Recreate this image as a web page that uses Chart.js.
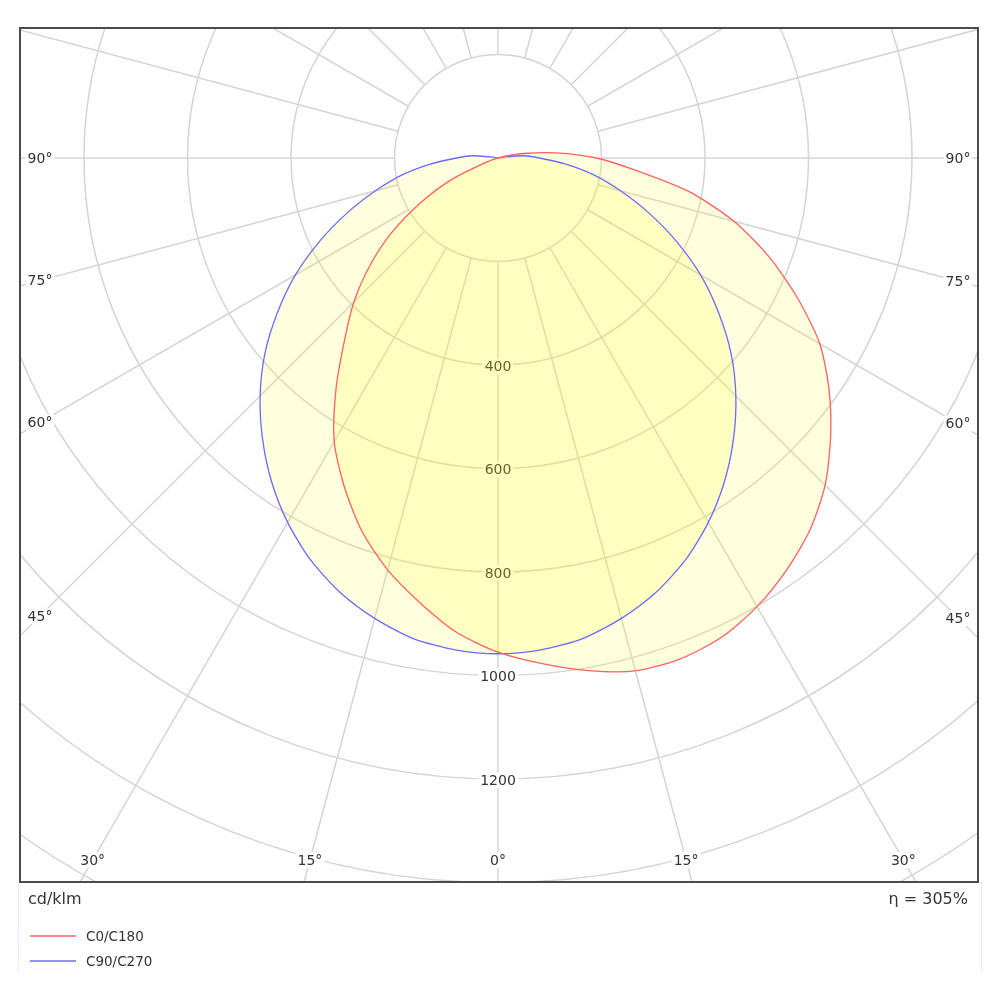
<!DOCTYPE html>
<html>
<head>
<meta charset="utf-8">
<script src="https://cdn.jsdelivr.net/npm/chart.js@4.4.1/dist/chart.umd.min.js"></script>
<style>
  html, body { margin: 0; padding: 0; background: #fff; }
  #wrap { width: 1000px; height: 1000px; }
</style>
</head>
<body>
<div id="wrap"><canvas id="c" width="1000" height="1000"></canvas></div>
<script>
// ---- data (cd/klm), gamma angles in degrees from nadir ----
const gammaAngles = [0, 5, 10, 15, 20, 25, 30, 35, 40, 45, 50, 55, 60, 65, 70, 75, 80, 85, 90, 95, 100, 105, 110];
const c0   = [955, 981, 1006, 1026, 1030, 1022, 1001, 972, 938, 894, 839, 781, 718, 638, 557, 472, 375, 265, 190, 112, 50, 12, 0];
const c180 = [955, 920, 872, 824, 768, 702, 633, 546, 462, 394, 323, 250, 172, 100, 25, 0, 0, 0, 0, 0, 0, 0, 0];
const c90  = [958, 954, 943, 921, 893, 857, 813, 763, 708, 650, 588, 520, 452, 380, 310, 245, 188, 130, 80, 50, 8, 0, 0];
const c270 = [958, 954, 943, 921, 893, 857, 813, 763, 708, 650, 588, 520, 452, 380, 310, 245, 188, 130, 80, 50, 8, 0, 0];
const seriesNames = ['C0/C180', 'C90/C270'];
const ringValues = [200, 400, 600, 800, 1000, 1200, 1400, 1600, 1800, 2000];
const ringLabelValues = [400, 600, 800, 1000, 1200];
const radialStepDeg = 15;
const angleLabelValues = [0, 15, 30, 45, 60, 75, 90];
const unitText = 'cd/klm';
const efficiencyText = 'η = 305%';

// ---- build polar -> cartesian (library scales do the pixel mapping) ----
function toXY(deg, val, side) {
  const a = deg * Math.PI / 180;
  return { x: side * val * Math.sin(a), y: -val * Math.cos(a) };
}
function buildLoop(leftVals, rightVals) {
  const pts = [];
  for (let i = gammaAngles.length - 1; i >= 1; i--) pts.push(toXY(gammaAngles[i], leftVals[i], -1));
  for (let i = 0; i < gammaAngles.length; i++) pts.push(toXY(gammaAngles[i], rightVals[i], 1));
  return pts;
}

// layout: plot box and scale (pixels per cd/klm)
const box = { left: 20, top: 28, right: 978, bottom: 882 };
const centerPx = { x: 498, y: 158 };
const pxPerUnit = 0.5175;

const FONT = '"DejaVu Sans", Verdana, sans-serif';

const polarPlugin = {
  id: 'polarGrid',
  beforeDatasetsDraw(chart) {
    const ctx = chart.ctx;
    const xs = chart.scales.x, ys = chart.scales.y;
    const ca = chart.chartArea;
    const cx = xs.getPixelForValue(0), cy = ys.getPixelForValue(0);
    const rp = v => xs.getPixelForValue(v) - cx;

    ctx.save();
    ctx.beginPath();
    ctx.rect(ca.left, ca.top, ca.right - ca.left, ca.bottom - ca.top);
    ctx.clip();

    // rings
    ctx.strokeStyle = '#d4d4d4';
    ctx.lineWidth = 1.5;
    ringValues.forEach(v => {
      ctx.beginPath();
      ctx.arc(cx, cy, rp(v), 0, Math.PI * 2);
      ctx.stroke();
    });
    // radial lines
    const rIn = rp(ringValues[0]), rOut = rp(ringValues[ringValues.length - 1]);
    for (let d = 0; d < 360; d += radialStepDeg) {
      const a = d * Math.PI / 180;
      const sx = Math.sin(a), sy = Math.cos(a);
      ctx.beginPath();
      ctx.moveTo(cx + rIn * sx, cy + rIn * sy);
      ctx.lineTo(cx + rOut * sx, cy + rOut * sy);
      ctx.stroke();
    }

    ctx.font = '14px ' + FONT;
    ctx.textAlign = 'center';
    ctx.textBaseline = 'middle';
    const labelWithBg = (txt, x, y) => {
      const w = ctx.measureText(txt).width;
      ctx.fillStyle = '#ffffff';
      ctx.fillRect(x - w / 2 - 2, y - 8, w + 4, 16);
      ctx.fillStyle = '#333333';
      ctx.fillText(txt, x, y + 1);
    };
    // ring labels on the 0° axis
    ringLabelValues.forEach(v => labelWithBg(String(v), cx, cy + rp(v) + 1));

    // angle labels near the frame
    const insetX = 20, insetY = 22;
    angleLabelValues.forEach(d => {
      [-1, 1].forEach(side => {
        if (d === 0 && side === -1) return;
        const a = d * Math.PI / 180;
        const s = Math.sin(a), c = Math.cos(a);
        const distX = side < 0 ? (cx - (ca.left + insetX)) : ((ca.right - insetX) - cx);
        const distY = (ca.bottom - insetY) - cy;
        let t = Infinity;
        if (s > 1e-6) t = Math.min(t, distX / s);
        if (c > 1e-6) t = Math.min(t, distY / c);
        labelWithBg(d + '°', cx + side * t * s, cy + t * c);
      });
    });

    // translucent fills of each curve (follow the drawn line path)
    chart.data.datasets.forEach((ds, i) => {
      const meta = chart.getDatasetMeta(i);
      const line = meta.dataset;
      ctx.beginPath();
      if (line && line.path) {
        line.path(ctx);
      } else {
        meta.data.forEach((p, k) => { if (k === 0) ctx.moveTo(p.x, p.y); else ctx.lineTo(p.x, p.y); });
      }
      ctx.closePath();
      ctx.fillStyle = 'rgba(255,255,0,0.13)';
      ctx.fill();
    });
    ctx.restore();
  },
  afterDraw(chart) {
    const ctx = chart.ctx;
    const ca = chart.chartArea;
    ctx.save();
    // faint outer frame of the legend area
    ctx.strokeStyle = '#ececec';
    ctx.lineWidth = 1;
    ctx.beginPath();
    ctx.moveTo(18.5, ca.bottom); ctx.lineTo(18.5, 972);
    ctx.moveTo(981.5, ca.bottom); ctx.lineTo(981.5, 972);
    ctx.stroke();
    // plot frame
    ctx.strokeStyle = '#4a4a4a';
    ctx.lineWidth = 2;
    ctx.strokeRect(ca.left, ca.top, ca.right - ca.left, ca.bottom - ca.top);

    ctx.fillStyle = '#333333';
    ctx.font = '16px ' + FONT;
    ctx.textBaseline = 'middle';
    ctx.textAlign = 'left';
    ctx.fillText(unitText, 28, 900);
    ctx.textAlign = 'right';
    ctx.fillText(efficiencyText, 968, 900);

    // legend
    ctx.font = '13.5px ' + FONT;
    ctx.textAlign = 'left';
    chart.data.datasets.forEach((ds, i) => {
      const y = 936 + i * 25;
      ctx.strokeStyle = ds.borderColor;
      ctx.lineWidth = 1.3;
      ctx.beginPath();
      ctx.moveTo(30, y); ctx.lineTo(76, y);
      ctx.stroke();
      ctx.fillStyle = '#333333';
      ctx.fillText(ds.label, 86, y + 1);
    });
    ctx.restore();
  }
};

new Chart(document.getElementById('c'), {
  type: 'scatter',
  data: {
    datasets: [
      { label: seriesNames[0], data: buildLoop(c180, c0), showLine: true, borderColor: '#ff5f5f', borderWidth: 1.3, pointRadius: 0, fill: false, tension: 0.25 },
      { label: seriesNames[1], data: buildLoop(c270, c90), showLine: true, borderColor: '#6a6aff', borderWidth: 1.3, pointRadius: 0, fill: false, tension: 0.25 }
    ]
  },
  options: {
    responsive: false,
    animation: false,
    devicePixelRatio: 1,
    layout: { padding: { left: box.left, top: box.top, right: 1000 - box.right, bottom: 1000 - box.bottom } },
    scales: {
      x: { type: 'linear', display: false, min: -(centerPx.x - box.left) / pxPerUnit, max: (box.right - centerPx.x) / pxPerUnit },
      y: { type: 'linear', display: false, min: -(box.bottom - centerPx.y) / pxPerUnit, max: (centerPx.y - box.top) / pxPerUnit }
    },
    plugins: { legend: { display: false }, tooltip: { enabled: false } }
  },
  plugins: [polarPlugin]
});
</script>
</body>
</html>
